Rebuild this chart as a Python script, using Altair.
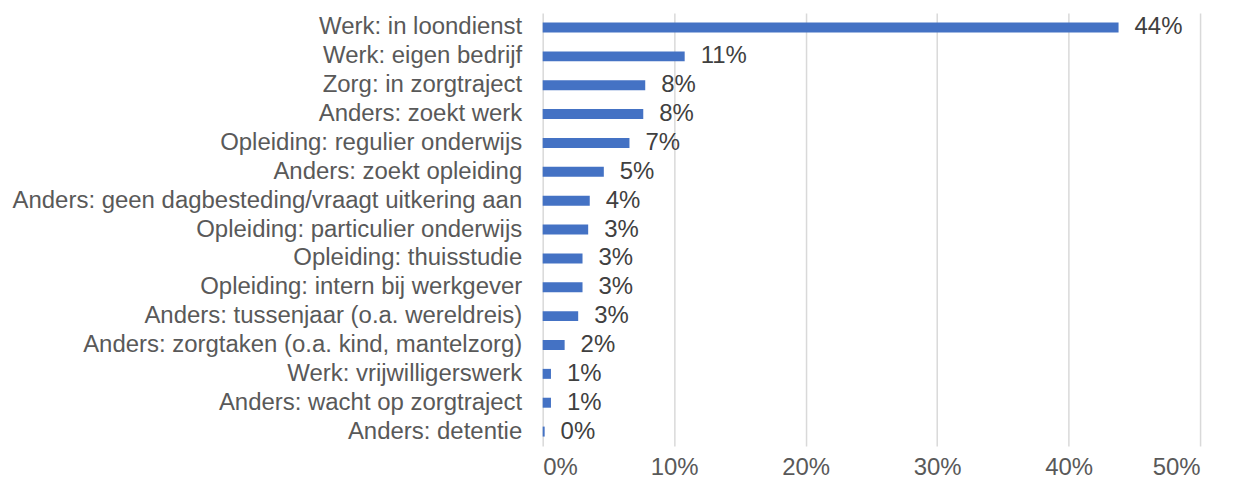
import altair as alt
import pandas as pd

categories = [
    "Werk: in loondienst",
    "Werk: eigen bedrijf",
    "Zorg: in zorgtraject",
    "Anders: zoekt werk",
    "Opleiding: regulier onderwijs",
    "Anders: zoekt opleiding",
    "Anders: geen dagbesteding/vraagt uitkering aan",
    "Opleiding: particulier onderwijs",
    "Opleiding: thuisstudie",
    "Opleiding: intern bij werkgever",
    "Anders: tussenjaar (o.a. wereldreis)",
    "Anders: zorgtaken (o.a. kind, mantelzorg)",
    "Werk: vrijwilligerswerk",
    "Anders: wacht op zorgtraject",
    "Anders: detentie",
]
values = [0.438, 0.108, 0.078, 0.0765, 0.066, 0.0465, 0.0358, 0.0346,
          0.0303, 0.0303, 0.027, 0.0167, 0.0063, 0.0063, 0.0015]
x_ticks = [0, 0.1, 0.2, 0.3, 0.4, 0.5]

df = pd.DataFrame({"cat": categories, "val": values})

FONT = "Liberation Sans"

y_enc = alt.Y("cat:N", sort=categories, title=None,
              scale=alt.Scale(paddingInner=0, paddingOuter=0),
              axis=alt.Axis(domain=False, ticks=False, grid=False,
                            labelLimit=700, labelPadding=21,
                            labelFontSize=24, labelFont=FONT,
                            labelColor="#595959"))
x_enc = alt.X("val:Q", title=None,
              scale=alt.Scale(domain=[0, 0.5], nice=False),
              axis=alt.Axis(values=x_ticks, format=".0%", domain=False,
                            ticks=False, grid=True, gridColor="#d9d9d9",
                            gridWidth=1.5, labelFontSize=24, labelFont=FONT,
                            labelColor="#595959", labelPadding=10))

bars = alt.Chart(df).mark_bar(color="#4472C4", size=10).encode(x=x_enc, y=y_enc)

text = alt.Chart(df).mark_text(
    align="left", baseline="middle", dx=16, fontSize=24, font=FONT,
    color="#404040"
).encode(
    x=alt.X("val:Q"),
    y=alt.Y("cat:N", sort=categories),
    text=alt.Text("val:Q", format=".0%"),
)

chart = (bars + text).properties(
    width=659,
    height=434,
    autosize=alt.AutoSizeParams(type="none"),
    padding={"left": 536, "top": 4.5, "right": 28, "bottom": 40},
).configure_view(stroke=None)

chart.save("out.html", embed_options={"renderer": "svg", "actions": False})
